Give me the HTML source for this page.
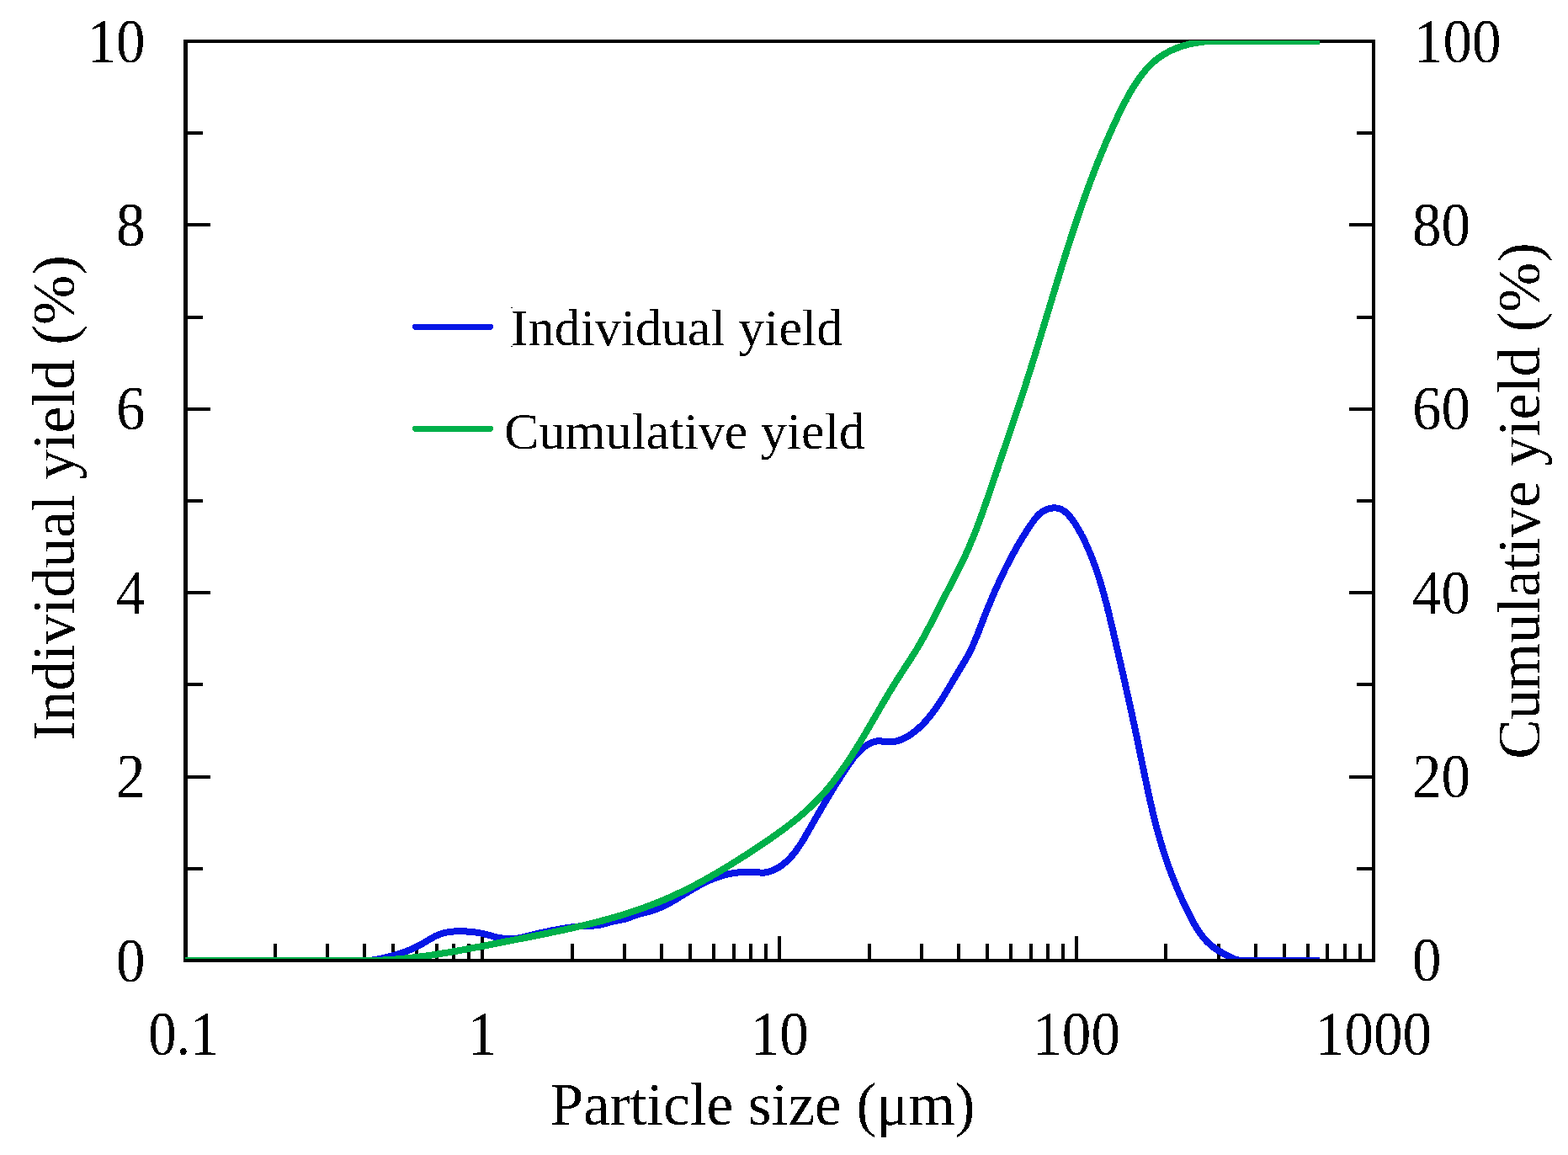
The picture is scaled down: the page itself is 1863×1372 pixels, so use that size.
<!DOCTYPE html>
<html><head><meta charset="utf-8"><title>Particle size distribution</title>
<style>html,body{margin:0;padding:0;background:#fff;}svg{display:block;}</style>
</head><body>
<svg width="1863" height="1372" viewBox="0 0 1863 1372" shape-rendering="crispEdges">
<defs><clipPath id="pc"><rect x="220" y="48" width="1412" height="1091"/></clipPath><filter id="bin" x="0" y="0" width="1863" height="1372" filterUnits="userSpaceOnUse"><feComponentTransfer><feFuncA type="discrete" tableValues="0 1"/></feComponentTransfer></filter></defs>
<rect width="1863" height="1372" fill="#fff"/>
<path d="M326.7,1141.0V1121.0 M388.9,1141.0V1121.0 M433.0,1141.0V1121.0 M467.1,1141.0V1121.0 M495.1,1141.0V1121.0 M518.7,1141.0V1121.0 M539.2,1141.0V1121.0 M557.2,1141.0V1121.0 M573.4,1141.0V1111.5 M679.6,1141.0V1121.0 M741.7,1141.0V1121.0 M785.8,1141.0V1121.0 M820.0,1141.0V1121.0 M848.0,1141.0V1121.0 M871.6,1141.0V1121.0 M892.1,1141.0V1121.0 M910.1,1141.0V1121.0 M926.2,1141.0V1111.5 M1032.5,1141.0V1121.0 M1094.6,1141.0V1121.0 M1138.7,1141.0V1121.0 M1172.9,1141.0V1121.0 M1200.8,1141.0V1121.0 M1224.5,1141.0V1121.0 M1244.9,1141.0V1121.0 M1263.0,1141.0V1121.0 M1279.1,1141.0V1111.5 M1385.4,1141.0V1121.0 M1447.5,1141.0V1121.0 M1491.6,1141.0V1121.0 M1525.8,1141.0V1121.0 M1553.7,1141.0V1121.0 M1577.3,1141.0V1121.0 M1597.8,1141.0V1121.0 M1615.9,1141.0V1121.0 M220.5,1031.8H240.5 M1632.0,1031.8H1612.0 M220.5,922.6H249.5 M1632.0,922.6H1603.0 M220.5,813.4H240.5 M1632.0,813.4H1612.0 M220.5,704.2H249.5 M1632.0,704.2H1603.0 M220.5,595.0H240.5 M1632.0,595.0H1612.0 M220.5,485.8H249.5 M1632.0,485.8H1603.0 M220.5,376.6H240.5 M1632.0,376.6H1612.0 M220.5,267.4H249.5 M1632.0,267.4H1603.0 M220.5,158.2H240.5 M1632.0,158.2H1612.0" fill="none" stroke="#000" stroke-width="4"/>
<path d="M220.5,47 V1143 M218,1141 H1634 M1632,1143 V47 M218,49 H1634" fill="none" stroke="#000" stroke-width="4.5"/>
<g clip-path="url(#pc)" fill="none" stroke-width="8" stroke-linejoin="round">
<path d="M215.0,1141.0L420.0,1140.9 421.9,1141.1 423.8,1141.2 425.8,1141.3 427.7,1141.4 429.6,1141.4 431.5,1141.3 433.4,1141.3 435.3,1141.2 437.2,1141.0 439.1,1140.9 441.0,1140.6 442.9,1140.4 444.7,1140.1 446.6,1139.8 448.5,1139.5 450.4,1139.2 452.2,1138.8 454.1,1138.4 455.9,1138.0 457.8,1137.5 459.6,1137.1 461.5,1136.6 463.3,1136.1 465.2,1135.7 467.0,1135.2 468.8,1134.6 470.7,1134.1 472.5,1133.5 474.3,1133.0 476.1,1132.4 477.9,1131.8 479.7,1131.1 481.5,1130.5 483.3,1129.8 485.1,1129.1 486.8,1128.4 488.6,1127.6 490.3,1126.9 492.1,1126.1 493.8,1125.3 495.5,1124.4 497.2,1123.5 498.9,1122.6 500.6,1121.7 502.2,1120.7 503.9,1119.8 505.5,1118.8 507.2,1117.8 508.8,1116.8 510.5,1115.8 512.2,1114.8 513.8,1113.9 515.5,1113.0 517.2,1112.1 518.9,1111.3 520.6,1110.6 522.4,1109.9 524.2,1109.3 526.0,1108.7 527.8,1108.2 529.6,1107.8 531.5,1107.4 533.3,1107.1 535.2,1106.9 537.1,1106.7 539.0,1106.5 540.9,1106.4 542.9,1106.3 544.8,1106.3 546.7,1106.3 548.6,1106.3 550.5,1106.3 552.5,1106.4 554.4,1106.5 556.3,1106.6 558.2,1106.7 560.1,1106.9 562.0,1107.1 563.9,1107.3 565.7,1107.6 567.6,1107.9 569.5,1108.2 571.4,1108.6 573.2,1109.0 575.1,1109.4 576.9,1109.8 578.8,1110.3 580.6,1110.8 582.5,1111.3 584.3,1111.8 586.2,1112.3 588.0,1112.8 589.9,1113.3 591.8,1113.7 593.6,1114.1 595.5,1114.4 597.4,1114.7 599.3,1115.0 601.2,1115.2 603.0,1115.3 604.9,1115.4 606.8,1115.4 608.7,1115.3 610.6,1115.2 612.5,1115.0 614.3,1114.7 616.2,1114.3 618.1,1114.0 619.9,1113.6 621.8,1113.1 623.7,1112.7 625.5,1112.2 627.4,1111.8 629.3,1111.3 631.1,1110.8 633.0,1110.4 634.8,1110.0 636.7,1109.5 638.6,1109.1 640.4,1108.6 642.3,1108.2 644.2,1107.8 646.0,1107.4 647.9,1107.0 649.8,1106.6 651.6,1106.2 653.5,1105.8 655.4,1105.4 657.2,1105.0 659.1,1104.7 661.0,1104.3 662.8,1104.0 664.7,1103.6 666.6,1103.3 668.4,1103.0 670.3,1102.7 672.2,1102.4 674.1,1102.1 676.0,1101.8 677.8,1101.6 679.7,1101.3 681.6,1101.1 683.5,1100.9 685.4,1100.7 687.3,1100.5 689.2,1100.3 691.1,1100.2 693.0,1100.1 694.9,1100.0 696.8,1099.9 698.7,1099.8 700.6,1099.8 702.5,1099.7 704.4,1099.6 706.3,1099.5 708.2,1099.3 710.1,1099.1 712.0,1098.8 713.8,1098.4 715.7,1098.0 717.5,1097.5 719.4,1097.0 721.2,1096.4 723.0,1095.9 724.9,1095.4 726.7,1094.9 728.6,1094.4 730.5,1094.1 732.3,1093.7 734.2,1093.4 736.1,1093.1 738.0,1092.7 739.8,1092.3 741.6,1091.9 743.5,1091.4 745.3,1090.8 747.1,1090.2 748.8,1089.5 750.6,1088.9 752.4,1088.2 754.2,1087.6 756.0,1087.0 757.8,1086.4 759.7,1085.8 761.5,1085.3 763.4,1084.8 765.3,1084.3 767.1,1083.9 769.0,1083.4 770.9,1082.9 772.7,1082.3 774.5,1081.8 776.4,1081.2 778.1,1080.6 779.9,1079.9 781.7,1079.2 783.4,1078.5 785.2,1077.8 786.9,1077.0 788.6,1076.2 790.3,1075.3 792.0,1074.5 793.7,1073.6 795.3,1072.7 797.0,1071.8 798.7,1070.9 800.3,1069.9 802.0,1069.0 803.6,1068.0 805.2,1067.0 806.9,1066.0 808.5,1065.0 810.1,1064.0 811.8,1063.0 813.4,1062.0 815.0,1061.0 816.6,1060.0 818.3,1059.0 819.9,1058.0 821.6,1057.0 823.2,1056.1 824.9,1055.1 826.5,1054.1 828.2,1053.2 829.9,1052.3 831.6,1051.4 833.3,1050.5 835.0,1049.6 836.7,1048.7 838.4,1047.9 840.1,1047.1 841.9,1046.3 843.6,1045.5 845.4,1044.7 847.1,1044.0 848.9,1043.3 850.7,1042.6 852.4,1042.0 854.2,1041.4 856.0,1040.8 857.8,1040.2 859.7,1039.7 861.5,1039.2 863.3,1038.7 865.2,1038.3 867.0,1037.9 868.9,1037.6 870.8,1037.3 872.7,1037.0 874.5,1036.7 876.5,1036.5 878.4,1036.4 880.3,1036.2 882.2,1036.1 884.1,1036.1 886.0,1036.0 887.9,1036.0 889.9,1036.0 891.8,1036.0 893.7,1036.1 895.6,1036.1 897.5,1036.2 899.4,1036.3 901.3,1036.4 903.2,1036.5 905.1,1036.6 906.9,1036.6 908.8,1036.5 910.7,1036.2 912.5,1035.8 914.4,1035.3 916.2,1034.7 918.0,1034.0 919.8,1033.2 921.6,1032.3 923.3,1031.4 925.0,1030.4 926.6,1029.4 928.2,1028.3 929.7,1027.2 931.2,1026.0 932.6,1024.8 934.1,1023.6 935.5,1022.3 936.8,1021.0 938.1,1019.6 939.4,1018.3 940.7,1016.9 941.9,1015.4 943.1,1014.0 944.3,1012.5 945.5,1011.0 946.6,1009.4 947.7,1007.9 948.8,1006.3 949.9,1004.7 950.9,1003.1 952.0,1001.5 953.0,999.9 954.0,998.2 955.0,996.6 956.0,994.9 957.0,993.3 957.9,991.6 958.9,989.9 959.9,988.3 960.8,986.6 961.8,984.9 962.7,983.2 963.7,981.6 964.6,979.9 965.6,978.2 966.5,976.6 967.5,974.9 968.4,973.3 969.4,971.6 970.3,970.0 971.3,968.3 972.2,966.7 973.2,965.1 974.1,963.4 975.1,961.8 976.0,960.1 977.0,958.5 977.9,956.9 978.9,955.3 979.9,953.6 980.8,952.0 981.8,950.4 982.8,948.8 983.7,947.1 984.7,945.5 985.7,943.9 986.7,942.3 987.6,940.7 988.6,939.0 989.6,937.4 990.6,935.8 991.6,934.2 992.6,932.6 993.6,931.0 994.6,929.4 995.7,927.7 996.7,926.1 997.7,924.5 998.7,922.9 999.8,921.3 1000.8,919.7 1001.9,918.1 1002.9,916.4 1004.0,914.8 1005.1,913.2 1006.2,911.6 1007.2,910.0 1008.3,908.4 1009.4,906.8 1010.6,905.2 1011.7,903.6 1012.9,902.0 1014.0,900.5 1015.2,899.0 1016.4,897.5 1017.7,896.1 1019.0,894.6 1020.3,893.3 1021.6,891.9 1023.0,890.6 1024.4,889.4 1025.8,888.2 1027.3,887.1 1028.8,886.0 1030.4,885.0 1032.0,884.1 1033.7,883.2 1035.4,882.4 1037.2,881.7 1039.0,881.1 1040.8,880.6 1042.7,880.4 1044.6,880.3 1046.5,880.4 1048.4,880.6 1050.3,880.8 1052.2,881.1 1054.1,881.3 1056.0,881.4 1057.9,881.4 1059.7,881.3 1061.6,881.1 1063.5,880.7 1065.3,880.3 1067.1,879.8 1068.9,879.2 1070.6,878.6 1072.4,877.8 1074.1,877.0 1075.8,876.2 1077.5,875.3 1079.2,874.3 1080.8,873.3 1082.4,872.2 1084.0,871.1 1085.6,869.9 1087.1,868.7 1088.6,867.5 1090.1,866.2 1091.6,864.9 1093.0,863.6 1094.4,862.3 1095.7,861.0 1097.1,859.6 1098.4,858.2 1099.7,856.8 1101.0,855.4 1102.2,854.0 1103.4,852.5 1104.6,851.0 1105.8,849.6 1107.0,848.1 1108.1,846.6 1109.3,845.0 1110.4,843.5 1111.5,842.0 1112.6,840.4 1113.6,838.9 1114.7,837.3 1115.7,835.7 1116.8,834.1 1117.8,832.5 1118.8,830.9 1119.8,829.3 1120.9,827.7 1121.9,826.1 1122.9,824.4 1123.8,822.8 1124.8,821.2 1125.8,819.5 1126.8,817.9 1127.8,816.2 1128.7,814.6 1129.7,813.0 1130.7,811.3 1131.7,809.7 1132.6,808.0 1133.6,806.4 1134.6,804.7 1135.5,803.1 1136.5,801.4 1137.5,799.8 1138.5,798.1 1139.5,796.5 1140.5,794.9 1141.4,793.2 1142.4,791.6 1143.4,790.0 1144.4,788.3 1145.4,786.7 1146.4,785.1 1147.3,783.4 1148.3,781.8 1149.2,780.1 1150.1,778.5 1151.0,776.8 1151.9,775.1 1152.8,773.4 1153.6,771.7 1154.4,770.0 1155.2,768.3 1156.0,766.5 1156.8,764.8 1157.6,763.1 1158.3,761.3 1159.0,759.5 1159.7,757.8 1160.5,756.0 1161.2,754.2 1161.9,752.4 1162.6,750.7 1163.2,748.9 1163.9,747.1 1164.6,745.3 1165.3,743.5 1166.0,741.7 1166.7,740.0 1167.4,738.2 1168.0,736.4 1168.7,734.6 1169.4,732.8 1170.1,731.1 1170.8,729.3 1171.5,727.5 1172.3,725.7 1173.0,724.0 1173.7,722.2 1174.4,720.4 1175.1,718.7 1175.9,716.9 1176.6,715.2 1177.3,713.4 1178.1,711.6 1178.8,709.9 1179.5,708.1 1180.3,706.4 1181.0,704.6 1181.8,702.9 1182.6,701.2 1183.3,699.4 1184.1,697.7 1184.9,695.9 1185.7,694.2 1186.5,692.5 1187.3,690.7 1188.1,689.0 1188.9,687.3 1189.7,685.6 1190.5,683.9 1191.3,682.1 1192.1,680.4 1193.0,678.7 1193.8,677.0 1194.6,675.3 1195.5,673.6 1196.3,671.9 1197.2,670.2 1198.1,668.5 1198.9,666.8 1199.8,665.1 1200.7,663.5 1201.6,661.8 1202.5,660.1 1203.4,658.4 1204.3,656.7 1205.3,655.1 1206.2,653.4 1207.1,651.7 1208.1,650.1 1209.0,648.4 1210.0,646.8 1211.0,645.1 1211.9,643.5 1212.9,641.8 1213.9,640.2 1214.9,638.6 1215.9,636.9 1216.9,635.3 1218.0,633.7 1219.0,632.0 1220.0,630.4 1221.1,628.8 1222.2,627.2 1223.2,625.6 1224.3,624.0 1225.4,622.4 1226.5,620.8 1227.6,619.2 1228.7,617.7 1229.9,616.1 1231.1,614.7 1232.4,613.2 1233.7,611.9 1235.0,610.6 1236.4,609.4 1237.9,608.2 1239.4,607.2 1241.1,606.3 1242.8,605.5 1244.6,604.8 1246.4,604.2 1248.3,603.8 1250.3,603.5 1252.2,603.4 1254.2,603.4 1256.0,603.6 1257.9,604.0 1259.6,604.6 1261.3,605.3 1262.9,606.2 1264.5,607.2 1266.0,608.4 1267.4,609.6 1268.8,610.9 1270.1,612.4 1271.4,613.9 1272.6,615.4 1273.8,617.0 1275.0,618.6 1276.1,620.2 1277.2,621.8 1278.2,623.5 1279.2,625.1 1280.2,626.8 1281.2,628.4 1282.1,630.1 1283.1,631.8 1284.0,633.4 1284.8,635.1 1285.7,636.8 1286.6,638.5 1287.4,640.2 1288.3,641.9 1289.1,643.6 1289.9,645.3 1290.7,647.0 1291.5,648.8 1292.3,650.5 1293.0,652.2 1293.8,654.0 1294.5,655.7 1295.3,657.5 1296.0,659.2 1296.7,661.0 1297.4,662.7 1298.1,664.5 1298.8,666.3 1299.4,668.0 1300.1,669.8 1300.7,671.6 1301.4,673.4 1302.0,675.2 1302.6,677.0 1303.3,678.8 1303.9,680.6 1304.5,682.4 1305.1,684.2 1305.6,686.0 1306.2,687.8 1306.8,689.6 1307.3,691.4 1307.9,693.3 1308.5,695.1 1309.0,696.9 1309.5,698.7 1310.1,700.6 1310.6,702.4 1311.1,704.3 1311.6,706.1 1312.1,707.9 1312.6,709.8 1313.1,711.6 1313.6,713.5 1314.1,715.3 1314.6,717.2 1315.0,719.0 1315.5,720.9 1316.0,722.7 1316.4,724.6 1316.9,726.4 1317.4,728.3 1317.8,730.2 1318.3,732.0 1318.7,733.9 1319.2,735.7 1319.6,737.6 1320.1,739.5 1320.5,741.3 1320.9,743.2 1321.4,745.0 1321.8,746.9 1322.2,748.8 1322.7,750.6 1323.1,752.5 1323.5,754.4 1324.0,756.2 1324.4,758.1 1324.8,760.0 1325.3,761.8 1325.7,763.7 1326.1,765.5 1326.6,767.4 1327.0,769.3 1327.4,771.1 1327.8,773.0 1328.3,774.8 1328.7,776.7 1329.1,778.6 1329.6,780.4 1330.0,782.3 1330.4,784.1 1330.8,786.0 1331.3,787.8 1331.7,789.7 1332.1,791.6 1332.5,793.4 1333.0,795.3 1333.4,797.1 1333.8,799.0 1334.2,800.8 1334.7,802.7 1335.1,804.6 1335.5,806.4 1335.9,808.3 1336.3,810.1 1336.8,812.0 1337.2,813.8 1337.6,815.7 1338.0,817.6 1338.4,819.4 1338.8,821.3 1339.3,823.1 1339.7,825.0 1340.1,826.9 1340.5,828.7 1340.9,830.6 1341.3,832.4 1341.7,834.3 1342.1,836.1 1342.6,838.0 1343.0,839.9 1343.4,841.7 1343.8,843.6 1344.2,845.4 1344.6,847.3 1345.0,849.2 1345.4,851.0 1345.8,852.9 1346.2,854.7 1346.6,856.6 1347.0,858.5 1347.4,860.3 1347.8,862.2 1348.2,864.0 1348.6,865.9 1349.0,867.8 1349.4,869.6 1349.8,871.5 1350.2,873.4 1350.6,875.2 1351.0,877.1 1351.4,879.0 1351.7,880.8 1352.1,882.7 1352.5,884.6 1352.9,886.4 1353.3,888.3 1353.7,890.2 1354.1,892.0 1354.4,893.9 1354.8,895.8 1355.2,897.7 1355.6,899.5 1356.0,901.4 1356.4,903.3 1356.7,905.1 1357.1,907.0 1357.5,908.9 1357.9,910.8 1358.3,912.6 1358.7,914.5 1359.0,916.4 1359.4,918.2 1359.8,920.1 1360.2,922.0 1360.6,923.9 1361.0,925.7 1361.4,927.6 1361.8,929.5 1362.2,931.3 1362.6,933.2 1363.0,935.1 1363.4,936.9 1363.8,938.8 1364.2,940.7 1364.6,942.5 1365.0,944.4 1365.4,946.3 1365.8,948.1 1366.2,950.0 1366.7,951.9 1367.1,953.7 1367.5,955.6 1367.9,957.4 1368.4,959.3 1368.8,961.2 1369.2,963.0 1369.7,964.9 1370.1,966.7 1370.6,968.6 1371.0,970.4 1371.5,972.3 1372.0,974.1 1372.4,976.0 1372.9,977.8 1373.4,979.7 1373.9,981.5 1374.3,983.3 1374.8,985.2 1375.3,987.0 1375.8,988.9 1376.3,990.7 1376.9,992.5 1377.4,994.4 1377.9,996.2 1378.4,998.0 1379.0,999.9 1379.5,1001.7 1380.0,1003.5 1380.6,1005.3 1381.1,1007.1 1381.7,1009.0 1382.3,1010.8 1382.9,1012.6 1383.4,1014.4 1384.0,1016.2 1384.6,1018.0 1385.2,1019.8 1385.8,1021.6 1386.5,1023.4 1387.1,1025.2 1387.7,1027.0 1388.3,1028.8 1389.0,1030.6 1389.6,1032.4 1390.3,1034.2 1391.0,1036.0 1391.6,1037.7 1392.3,1039.5 1393.0,1041.3 1393.7,1043.1 1394.4,1044.8 1395.1,1046.6 1395.8,1048.4 1396.5,1050.1 1397.2,1051.9 1398.0,1053.7 1398.7,1055.4 1399.4,1057.2 1400.2,1058.9 1400.9,1060.7 1401.7,1062.4 1402.5,1064.2 1403.3,1065.9 1404.1,1067.7 1404.8,1069.4 1405.6,1071.2 1406.5,1072.9 1407.3,1074.6 1408.1,1076.4 1408.9,1078.1 1409.8,1079.8 1410.6,1081.6 1411.5,1083.3 1412.3,1085.0 1413.2,1086.7 1414.1,1088.4 1414.9,1090.1 1415.8,1091.9 1416.7,1093.6 1417.7,1095.2 1418.6,1096.9 1419.5,1098.6 1420.5,1100.2 1421.5,1101.9 1422.5,1103.5 1423.5,1105.1 1424.6,1106.7 1425.7,1108.2 1426.8,1109.8 1427.9,1111.3 1429.0,1112.8 1430.2,1114.2 1431.4,1115.6 1432.7,1117.0 1434.0,1118.4 1435.3,1119.7 1436.7,1121.0 1438.0,1122.3 1439.5,1123.5 1441.0,1124.6 1442.5,1125.8 1444.0,1126.9 1445.6,1127.9 1447.2,1128.9 1448.9,1129.9 1450.6,1130.9 1452.2,1131.9 1453.9,1132.8 1455.6,1133.7 1457.3,1134.6 1459.0,1135.5 1460.7,1136.4 1462.4,1137.3 1464.2,1138.1 1465.9,1138.9 1467.6,1139.5 1469.4,1140.1 1471.2,1140.5 1473.1,1140.9 1474.9,1141.1 1476.8,1141.2 1478.7,1141.2 1480.7,1141.2 1482.6,1141.2 1484.6,1141.1 1486.5,1141.0 1488.4,1140.9 1490.4,1140.9 1492.3,1140.8 1494.1,1140.9 1496.0,1141.0 1567.6,1141.0" stroke="#0717E6"/>
<path d="M215.0,1141.0L419.9,1141.1 421.8,1141.1 423.7,1141.2 425.6,1141.2 427.4,1141.2 429.3,1141.2 431.2,1141.2 433.1,1141.2 435.0,1141.2 436.8,1141.2 438.7,1141.2 440.6,1141.1 442.5,1141.1 444.3,1141.0 446.2,1141.0 448.1,1140.9 449.9,1140.8 451.8,1140.7 453.7,1140.6 455.5,1140.5 457.4,1140.4 459.3,1140.3 461.1,1140.2 463.0,1140.1 464.8,1139.9 466.7,1139.8 468.6,1139.7 470.4,1139.5 472.3,1139.4 474.1,1139.2 476.0,1139.0 477.8,1138.8 479.7,1138.7 481.5,1138.5 483.4,1138.3 485.2,1138.1 487.1,1137.9 488.9,1137.7 490.8,1137.5 492.6,1137.2 494.5,1137.0 496.3,1136.8 498.2,1136.5 500.0,1136.3 501.8,1136.1 503.7,1135.8 505.5,1135.6 507.4,1135.3 509.2,1135.0 511.1,1134.8 512.9,1134.5 514.7,1134.2 516.6,1134.0 518.4,1133.7 520.3,1133.4 522.1,1133.1 523.9,1132.8 525.8,1132.5 527.6,1132.2 529.4,1131.9 531.3,1131.6 533.1,1131.3 534.9,1131.0 536.8,1130.7 538.6,1130.3 540.4,1130.0 542.3,1129.7 544.1,1129.4 545.9,1129.0 547.8,1128.7 549.6,1128.4 551.4,1128.0 553.3,1127.7 555.1,1127.3 556.9,1127.0 558.8,1126.7 560.6,1126.3 562.4,1126.0 564.3,1125.6 566.1,1125.3 567.9,1124.9 569.8,1124.6 571.6,1124.2 573.4,1123.9 575.3,1123.5 577.1,1123.1 578.9,1122.8 580.8,1122.4 582.6,1122.1 584.4,1121.7 586.3,1121.4 588.1,1121.0 589.9,1120.6 591.8,1120.3 593.6,1119.9 595.4,1119.6 597.3,1119.2 599.1,1118.8 600.9,1118.5 602.8,1118.1 604.6,1117.8 606.5,1117.4 608.3,1117.0 610.1,1116.7 612.0,1116.3 613.8,1116.0 615.6,1115.6 617.5,1115.2 619.3,1114.9 621.2,1114.5 623.0,1114.2 624.8,1113.8 626.7,1113.4 628.5,1113.1 630.3,1112.7 632.2,1112.4 634.0,1112.0 635.9,1111.6 637.7,1111.3 639.5,1110.9 641.4,1110.5 643.2,1110.2 645.0,1109.8 646.9,1109.4 648.7,1109.0 650.5,1108.7 652.4,1108.3 654.2,1107.9 656.0,1107.5 657.9,1107.2 659.7,1106.8 661.5,1106.4 663.4,1106.0 665.2,1105.6 667.0,1105.2 668.9,1104.8 670.7,1104.4 672.5,1104.0 674.3,1103.6 676.2,1103.2 678.0,1102.8 679.8,1102.4 681.6,1102.0 683.5,1101.6 685.3,1101.1 687.1,1100.7 688.9,1100.3 690.7,1099.9 692.5,1099.4 694.4,1099.0 696.2,1098.6 698.0,1098.1 699.8,1097.7 701.6,1097.2 703.4,1096.8 705.2,1096.3 707.0,1095.9 708.8,1095.4 710.6,1094.9 712.4,1094.5 714.2,1094.0 716.0,1093.5 717.8,1093.0 719.6,1092.5 721.4,1092.0 723.2,1091.5 725.0,1091.0 726.8,1090.5 728.6,1090.0 730.4,1089.5 732.2,1089.0 734.0,1088.4 735.7,1087.9 737.5,1087.4 739.3,1086.8 741.1,1086.3 742.8,1085.7 744.6,1085.2 746.4,1084.6 748.2,1084.0 749.9,1083.5 751.7,1082.9 753.4,1082.3 755.2,1081.7 757.0,1081.1 758.7,1080.5 760.5,1079.9 762.2,1079.3 764.0,1078.6 765.7,1078.0 767.5,1077.4 769.2,1076.7 770.9,1076.1 772.7,1075.4 774.4,1074.8 776.2,1074.1 777.9,1073.4 779.6,1072.7 781.3,1072.1 783.1,1071.4 784.8,1070.7 786.5,1069.9 788.2,1069.2 789.9,1068.5 791.6,1067.8 793.3,1067.0 795.0,1066.3 796.7,1065.5 798.4,1064.8 800.1,1064.0 801.8,1063.2 803.5,1062.4 805.2,1061.6 806.9,1060.8 808.6,1060.0 810.3,1059.2 811.9,1058.4 813.6,1057.6 815.3,1056.8 816.9,1055.9 818.6,1055.1 820.3,1054.2 821.9,1053.4 823.6,1052.5 825.3,1051.6 826.9,1050.8 828.6,1049.9 830.2,1049.0 831.9,1048.1 833.5,1047.2 835.2,1046.3 836.8,1045.4 838.4,1044.5 840.1,1043.6 841.7,1042.7 843.3,1041.8 845.0,1040.8 846.6,1039.9 848.2,1039.0 849.8,1038.0 851.5,1037.1 853.1,1036.1 854.7,1035.2 856.3,1034.2 857.9,1033.3 859.5,1032.3 861.1,1031.3 862.7,1030.3 864.3,1029.4 865.9,1028.4 867.5,1027.4 869.1,1026.4 870.7,1025.4 872.3,1024.4 873.9,1023.4 875.5,1022.4 877.1,1021.4 878.7,1020.4 880.2,1019.4 881.8,1018.4 883.4,1017.4 885.0,1016.4 886.5,1015.4 888.1,1014.3 889.7,1013.3 891.3,1012.3 892.8,1011.3 894.4,1010.2 896.0,1009.2 897.5,1008.2 899.1,1007.1 900.6,1006.1 902.2,1005.0 903.7,1004.0 905.3,1003.0 906.8,1001.9 908.4,1000.9 909.9,999.8 911.5,998.8 913.0,997.7 914.6,996.7 916.1,995.6 917.6,994.5 919.1,993.5 920.7,992.4 922.2,991.3 923.7,990.2 925.2,989.2 926.7,988.1 928.2,987.0 929.7,985.9 931.2,984.8 932.7,983.7 934.2,982.6 935.7,981.4 937.1,980.3 938.6,979.2 940.1,978.1 941.5,976.9 943.0,975.8 944.4,974.6 945.9,973.4 947.3,972.3 948.7,971.1 950.1,969.9 951.5,968.7 952.9,967.5 954.3,966.3 955.7,965.1 957.1,963.9 958.5,962.6 959.9,961.4 961.2,960.1 962.6,958.9 963.9,957.6 965.3,956.3 966.6,955.0 967.9,953.7 969.2,952.4 970.5,951.1 971.8,949.8 973.1,948.4 974.4,947.1 975.6,945.7 976.9,944.3 978.1,942.9 979.4,941.6 980.6,940.1 981.8,938.7 983.0,937.3 984.2,935.9 985.4,934.4 986.6,933.0 987.8,931.5 988.9,930.1 990.1,928.6 991.3,927.1 992.4,925.6 993.5,924.1 994.7,922.6 995.8,921.1 996.9,919.6 998.0,918.1 999.1,916.6 1000.2,915.0 1001.3,913.5 1002.4,911.9 1003.4,910.4 1004.5,908.8 1005.6,907.3 1006.6,905.7 1007.7,904.2 1008.7,902.6 1009.8,901.0 1010.8,899.4 1011.8,897.9 1012.8,896.3 1013.8,894.7 1014.8,893.1 1015.8,891.5 1016.8,889.9 1017.8,888.3 1018.8,886.7 1019.8,885.2 1020.8,883.6 1021.8,882.0 1022.7,880.4 1023.7,878.8 1024.6,877.2 1025.6,875.6 1026.6,873.9 1027.5,872.3 1028.5,870.7 1029.4,869.1 1030.4,867.5 1031.3,865.9 1032.2,864.3 1033.2,862.7 1034.1,861.1 1035.0,859.5 1036.0,857.9 1036.9,856.3 1037.8,854.7 1038.8,853.0 1039.7,851.4 1040.6,849.8 1041.6,848.2 1042.5,846.6 1043.4,845.0 1044.3,843.4 1045.3,841.8 1046.2,840.2 1047.1,838.6 1048.1,837.0 1049.0,835.4 1050.0,833.8 1050.9,832.2 1051.8,830.6 1052.8,829.0 1053.7,827.4 1054.7,825.8 1055.6,824.2 1056.6,822.6 1057.5,821.0 1058.5,819.4 1059.5,817.8 1060.4,816.2 1061.4,814.6 1062.4,813.1 1063.4,811.5 1064.4,809.9 1065.4,808.3 1066.4,806.8 1067.4,805.2 1068.4,803.6 1069.4,802.0 1070.4,800.5 1071.4,798.9 1072.4,797.4 1073.5,795.8 1074.5,794.2 1075.5,792.7 1076.5,791.1 1077.6,789.5 1078.6,788.0 1079.6,786.4 1080.6,784.8 1081.6,783.3 1082.6,781.7 1083.6,780.1 1084.6,778.5 1085.6,777.0 1086.6,775.4 1087.6,773.8 1088.6,772.2 1089.5,770.6 1090.5,769.0 1091.4,767.4 1092.4,765.8 1093.3,764.2 1094.2,762.5 1095.1,760.9 1096.0,759.3 1097.0,757.7 1097.9,756.0 1098.7,754.4 1099.6,752.8 1100.5,751.1 1101.4,749.5 1102.3,747.8 1103.1,746.2 1104.0,744.5 1104.9,742.9 1105.7,741.2 1106.6,739.6 1107.5,737.9 1108.3,736.3 1109.2,734.6 1110.0,732.9 1110.9,731.3 1111.7,729.6 1112.5,728.0 1113.4,726.3 1114.2,724.6 1115.1,723.0 1115.9,721.3 1116.8,719.6 1117.6,718.0 1118.4,716.3 1119.3,714.6 1120.1,713.0 1121.0,711.3 1121.8,709.6 1122.7,708.0 1123.5,706.3 1124.4,704.7 1125.3,703.0 1126.1,701.3 1127.0,699.7 1127.8,698.0 1128.7,696.4 1129.6,694.7 1130.4,693.0 1131.3,691.4 1132.2,689.7 1133.0,688.1 1133.9,686.4 1134.7,684.7 1135.6,683.1 1136.4,681.4 1137.3,679.8 1138.1,678.1 1139.0,676.4 1139.8,674.8 1140.6,673.1 1141.4,671.4 1142.3,669.7 1143.1,668.1 1143.9,666.4 1144.7,664.7 1145.5,663.0 1146.2,661.3 1147.0,659.6 1147.8,657.9 1148.6,656.2 1149.3,654.5 1150.1,652.8 1150.8,651.1 1151.5,649.4 1152.3,647.7 1153.0,646.0 1153.7,644.3 1154.4,642.5 1155.1,640.8 1155.8,639.1 1156.5,637.4 1157.2,635.6 1157.9,633.9 1158.6,632.2 1159.3,630.4 1160.0,628.7 1160.6,627.0 1161.3,625.2 1161.9,623.5 1162.6,621.7 1163.3,620.0 1163.9,618.3 1164.5,616.5 1165.2,614.8 1165.8,613.0 1166.5,611.3 1167.1,609.5 1167.7,607.7 1168.3,606.0 1169.0,604.2 1169.6,602.5 1170.2,600.7 1170.8,599.0 1171.4,597.2 1172.0,595.4 1172.7,593.7 1173.3,591.9 1173.9,590.1 1174.5,588.4 1175.1,586.6 1175.7,584.9 1176.3,583.1 1176.9,581.3 1177.5,579.6 1178.1,577.8 1178.7,576.0 1179.3,574.3 1179.9,572.5 1180.5,570.7 1181.1,569.0 1181.7,567.2 1182.3,565.4 1182.9,563.7 1183.5,561.9 1184.1,560.1 1184.7,558.4 1185.3,556.6 1185.9,554.8 1186.4,553.1 1187.0,551.3 1187.6,549.5 1188.2,547.8 1188.8,546.0 1189.4,544.2 1190.0,542.5 1190.6,540.7 1191.2,539.0 1191.8,537.2 1192.4,535.4 1193.0,533.7 1193.6,531.9 1194.2,530.1 1194.8,528.4 1195.4,526.6 1196.0,524.8 1196.6,523.1 1197.2,521.3 1197.8,519.5 1198.4,517.8 1199.0,516.0 1199.6,514.2 1200.2,512.5 1200.8,510.7 1201.4,508.9 1202.0,507.2 1202.6,505.4 1203.2,503.6 1203.8,501.9 1204.4,500.1 1205.0,498.3 1205.6,496.6 1206.2,494.8 1206.7,493.0 1207.3,491.3 1207.9,489.5 1208.5,487.7 1209.1,486.0 1209.7,484.2 1210.3,482.4 1210.9,480.7 1211.4,478.9 1212.0,477.1 1212.6,475.3 1213.2,473.6 1213.8,471.8 1214.3,470.0 1214.9,468.3 1215.5,466.5 1216.1,464.7 1216.7,462.9 1217.2,461.2 1217.8,459.4 1218.4,457.6 1218.9,455.8 1219.5,454.1 1220.1,452.3 1220.6,450.5 1221.2,448.7 1221.8,446.9 1222.3,445.2 1222.9,443.4 1223.5,441.6 1224.0,439.8 1224.6,438.0 1225.1,436.3 1225.7,434.5 1226.2,432.7 1226.8,430.9 1227.4,429.1 1227.9,427.3 1228.5,425.6 1229.0,423.8 1229.6,422.0 1230.1,420.2 1230.7,418.4 1231.2,416.6 1231.8,414.8 1232.3,413.1 1232.8,411.3 1233.4,409.5 1233.9,407.7 1234.5,405.9 1235.0,404.1 1235.6,402.3 1236.1,400.5 1236.7,398.7 1237.2,397.0 1237.7,395.2 1238.3,393.4 1238.8,391.6 1239.4,389.8 1239.9,388.0 1240.4,386.2 1241.0,384.4 1241.5,382.6 1242.1,380.9 1242.6,379.1 1243.1,377.3 1243.7,375.5 1244.2,373.7 1244.8,371.9 1245.3,370.1 1245.8,368.3 1246.4,366.5 1246.9,364.7 1247.5,363.0 1248.0,361.2 1248.5,359.4 1249.1,357.6 1249.6,355.8 1250.2,354.0 1250.7,352.2 1251.2,350.4 1251.8,348.6 1252.3,346.8 1252.9,345.1 1253.4,343.3 1254.0,341.5 1254.5,339.7 1255.0,337.9 1255.6,336.1 1256.1,334.3 1256.7,332.5 1257.2,330.8 1257.8,329.0 1258.3,327.2 1258.9,325.4 1259.4,323.6 1260.0,321.8 1260.5,320.0 1261.1,318.3 1261.6,316.5 1262.2,314.7 1262.7,312.9 1263.3,311.1 1263.9,309.3 1264.4,307.6 1265.0,305.8 1265.5,304.0 1266.1,302.2 1266.7,300.4 1267.2,298.7 1267.8,296.9 1268.3,295.1 1268.9,293.3 1269.5,291.6 1270.1,289.8 1270.6,288.0 1271.2,286.2 1271.8,284.5 1272.3,282.7 1272.9,280.9 1273.5,279.1 1274.1,277.4 1274.7,275.6 1275.2,273.8 1275.8,272.1 1276.4,270.3 1277.0,268.5 1277.6,266.7 1278.2,265.0 1278.8,263.2 1279.4,261.4 1279.9,259.7 1280.5,257.9 1281.1,256.2 1281.7,254.4 1282.3,252.6 1283.0,250.9 1283.6,249.1 1284.2,247.4 1284.8,245.6 1285.4,243.8 1286.0,242.1 1286.6,240.3 1287.2,238.6 1287.9,236.8 1288.5,235.1 1289.1,233.3 1289.7,231.6 1290.4,229.8 1291.0,228.1 1291.6,226.3 1292.3,224.6 1292.9,222.8 1293.5,221.1 1294.2,219.3 1294.8,217.6 1295.5,215.9 1296.1,214.1 1296.8,212.4 1297.4,210.6 1298.1,208.9 1298.8,207.2 1299.4,205.4 1300.1,203.7 1300.8,202.0 1301.4,200.2 1302.1,198.5 1302.8,196.8 1303.5,195.1 1304.1,193.3 1304.8,191.6 1305.5,189.9 1306.2,188.1 1306.9,186.4 1307.6,184.7 1308.3,183.0 1309.0,181.3 1309.7,179.5 1310.5,177.8 1311.2,176.1 1311.9,174.4 1312.6,172.7 1313.4,170.9 1314.1,169.2 1314.8,167.5 1315.6,165.8 1316.3,164.1 1317.1,162.4 1317.8,160.7 1318.6,158.9 1319.3,157.2 1320.1,155.5 1320.9,153.8 1321.6,152.1 1322.4,150.4 1323.2,148.7 1324.0,147.0 1324.8,145.3 1325.6,143.6 1326.4,141.9 1327.2,140.2 1328.0,138.5 1328.8,136.8 1329.6,135.1 1330.5,133.4 1331.3,131.7 1332.1,130.0 1333.0,128.3 1333.8,126.6 1334.7,124.9 1335.5,123.2 1336.4,121.5 1337.3,119.9 1338.2,118.2 1339.0,116.5 1339.9,114.9 1340.9,113.2 1341.8,111.6 1342.7,109.9 1343.7,108.3 1344.6,106.7 1345.6,105.1 1346.6,103.5 1347.6,101.9 1348.6,100.3 1349.6,98.7 1350.6,97.2 1351.7,95.6 1352.8,94.1 1353.8,92.6 1354.9,91.1 1356.0,89.6 1357.2,88.1 1358.3,86.7 1359.5,85.2 1360.7,83.8 1361.9,82.4 1363.1,81.1 1364.4,79.7 1365.6,78.4 1366.9,77.1 1368.2,75.8 1369.6,74.6 1370.9,73.4 1372.3,72.2 1373.7,71.0 1375.1,69.9 1376.6,68.8 1378.1,67.8 1379.6,66.7 1381.1,65.7 1382.6,64.8 1384.2,63.8 1385.8,62.9 1387.4,62.1 1389.0,61.2 1390.6,60.4 1392.3,59.6 1394.0,58.9 1395.7,58.1 1397.4,57.4 1399.1,56.8 1400.8,56.1 1402.6,55.5 1404.3,54.9 1406.1,54.4 1407.9,53.9 1409.7,53.4 1411.5,52.9 1413.3,52.4 1415.2,52.0 1417.0,51.6 1418.9,51.3 1420.7,50.9 1422.6,50.6 1424.5,50.3 1426.3,50.1 1428.2,49.8 1430.1,49.6 1432.0,49.4 1433.9,49.2 1435.8,49.1 1437.7,49.0 1439.6,48.9 1441.4,48.8 1443.3,48.7 1445.2,48.6 1447.1,48.6 1449.0,48.6 1450.9,48.6 1452.8,48.6 1454.7,48.6 1456.5,48.6 1458.4,48.6 1460.3,48.7 1462.1,48.7 1464.0,48.8 1465.8,48.9 1467.7,48.9 1469.5,49.0 1471.3,49.1 1473.1,49.2 1474.9,49.3 1567.9,48.9" stroke="#00B04A"/>
</g>
<g filter="url(#bin)">
<text transform="translate(172.5,1165.5) scale(0.960,1.040)" font-family="Liberation Serif, Times New Roman, serif" font-size="72" text-anchor="end">0</text>
<text transform="translate(172.5,947.1) scale(0.960,1.040)" font-family="Liberation Serif, Times New Roman, serif" font-size="72" text-anchor="end">2</text>
<text transform="translate(172.5,728.7) scale(0.960,1.040)" font-family="Liberation Serif, Times New Roman, serif" font-size="72" text-anchor="end">4</text>
<text transform="translate(172.5,510.3) scale(0.960,1.040)" font-family="Liberation Serif, Times New Roman, serif" font-size="72" text-anchor="end">6</text>
<text transform="translate(172.5,291.9) scale(0.960,1.040)" font-family="Liberation Serif, Times New Roman, serif" font-size="72" text-anchor="end">8</text>
<text transform="translate(172.5,73.5) scale(0.960,1.040)" font-family="Liberation Serif, Times New Roman, serif" font-size="72" text-anchor="end">10</text>
<text transform="translate(1678.0,1165.5) scale(0.960,1.040)" font-family="Liberation Serif, Times New Roman, serif" font-size="72" text-anchor="start">0</text>
<text transform="translate(1678.0,947.1) scale(0.960,1.040)" font-family="Liberation Serif, Times New Roman, serif" font-size="72" text-anchor="start">20</text>
<text transform="translate(1678.0,728.7) scale(0.960,1.040)" font-family="Liberation Serif, Times New Roman, serif" font-size="72" text-anchor="start">40</text>
<text transform="translate(1678.0,510.3) scale(0.960,1.040)" font-family="Liberation Serif, Times New Roman, serif" font-size="72" text-anchor="start">60</text>
<text transform="translate(1678.0,291.9) scale(0.960,1.040)" font-family="Liberation Serif, Times New Roman, serif" font-size="72" text-anchor="start">80</text>
<text transform="translate(1680.0,73.5) scale(0.960,1.040)" font-family="Liberation Serif, Times New Roman, serif" font-size="72" text-anchor="start">100</text>
<text transform="translate(217.9,1253.5) scale(0.926,1.04)" font-family="Liberation Serif, Times New Roman, serif" font-size="72" text-anchor="middle">0.1</text>
<text transform="translate(573.4,1253.5) scale(0.960,1.040)" font-family="Liberation Serif, Times New Roman, serif" font-size="72" text-anchor="middle">1</text>
<text transform="translate(926.2,1253.5) scale(0.960,1.040)" font-family="Liberation Serif, Times New Roman, serif" font-size="72" text-anchor="middle">10</text>
<text transform="translate(1279.1,1253.5) scale(0.960,1.040)" font-family="Liberation Serif, Times New Roman, serif" font-size="72" text-anchor="middle">100</text>
<text transform="translate(1632.0,1253.5) scale(0.960,1.040)" font-family="Liberation Serif, Times New Roman, serif" font-size="72" text-anchor="middle">1000</text>
<text transform="translate(906,1336) scale(0.99,1)" font-family="Liberation Serif, Times New Roman, serif" font-size="72" text-anchor="middle">Particle size (&#956;m)</text>
<text transform="translate(88,591.5) rotate(-90) scale(0.988,1)" font-family="Liberation Serif, Times New Roman, serif" font-size="72" text-anchor="middle">Individual yield (%)</text>
<text transform="translate(1829,595) rotate(-90) scale(0.984,1)" font-family="Liberation Serif, Times New Roman, serif" font-size="72" text-anchor="middle">Cumulative yield (%)</text>
</g>
<path d="M493.5,388.4 H582.5" stroke="#0717E6" stroke-width="7" stroke-linecap="round"/>
<path d="M493.5,509.4 H582.5" stroke="#00B04A" stroke-width="7" stroke-linecap="round"/>
<g filter="url(#bin)">
<text x="607" y="410" font-family="Liberation Serif, Times New Roman, serif" font-size="62">Individual yield</text>
<text x="599" y="532.7" font-family="Liberation Serif, Times New Roman, serif" font-size="62">Cumulative yield</text>
</g>
<rect x="607" y="365" width="2" height="1" fill="#000"/><rect x="607" y="411" width="2" height="1" fill="#000"/>
</svg>
</body></html>
